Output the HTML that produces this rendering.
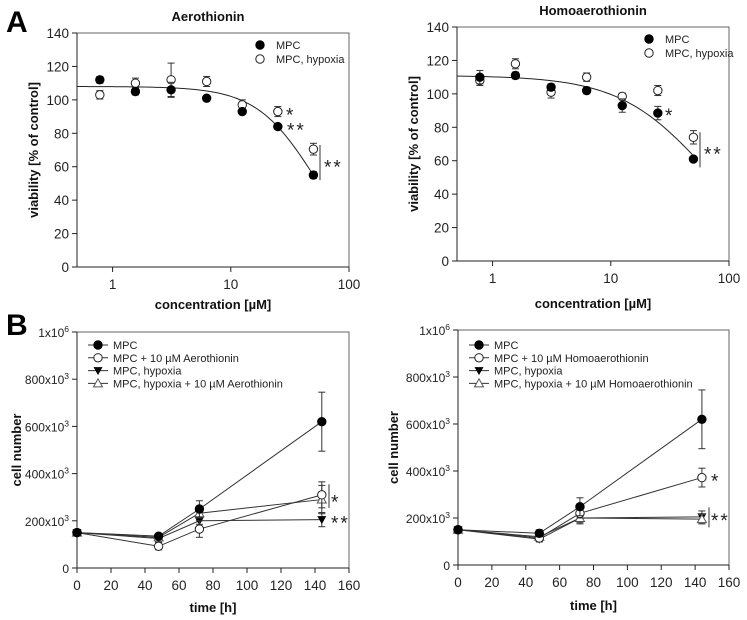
<!DOCTYPE html>
<html><head><meta charset="utf-8"><style>
body{margin:0;background:#fff;}
svg{display:block;font-family:"Liberation Sans",Arial,sans-serif;}
</style></head><body>
<svg id="fig" width="747" height="620" viewBox="0 0 747 620" xmlns="http://www.w3.org/2000/svg">
<text x="6" y="32" font-size="30" font-weight="bold">A</text>
<text x="6" y="335" font-size="30" font-weight="bold">B</text>
</svg>
<script>
// Panel A data (concentration, µM)
const concA = [0.78, 1.56, 3.125, 6.25, 12.5, 25, 50];
const aeroMPC = [112, 105, 106, 101, 93, 84, 55];
const aeroMPCErr = [2, 2, 4.5, 1.5, 1.5, 1, 2];
const aeroHyp = [103, 110, 112, 111, 97, 93, 70.5];
const aeroHypErr = [2.5, 3, 10, 3, 3, 3, 3.5];
const homoMPC = [110, 111, 104, 102, 93, 88.5, 61];
const homoMPCErr = [4, 2, 2, 2, 4, 4, 1.5];
const homoHyp = [108, 118, 101, 110, 98.5, 102, 74];
const homoHypErr = [3, 3, 3.5, 2.5, 2, 3, 4];
const yTicksA = [0, 20, 40, 60, 80, 100, 120, 140];
const xTicksA = [1, 10, 100];
// Panel B data (time h, cell number x1000)
const timeB = [0, 48, 72, 144];
const bMPC = [150, 135, 250, 620];
const bMPCErr = [5, 10, 35, 125];
const bAero = [150, 92, 165, 310];
const bAeroErr = [5, 15, 35, 55];
const bHyp = [150, 125, 200, 205];
const bHypErr = [5, 15, 15, 30];
const bHypAero = [150, 130, 232, 290];
const bHypAeroErr = [5, 10, 20, 60];
const cMPC = [150, 135, 248, 620];
const cMPCErr = [5, 15, 38, 125];
const cHomo = [150, 115, 220, 372];
const cHomoErr = [5, 15, 20, 40];
const cHyp = [150, 110, 200, 205];
const cHypErr = [5, 12, 25, 25];
const cHypHomo = [150, 120, 200, 195];
const cHypHomoErr = [5, 12, 20, 20];
const yTicksB = [0, 200, 400, 600, 800, 1000];
const yTickLabelsB = ["0", "200x10³", "400x10³", "600x10³", "800x10³", "1x10⁶"];
const xTicksB = [0, 20, 40, 60, 80, 100, 120, 140, 160];

const svg = document.getElementById('fig');
const NS = 'http://www.w3.org/2000/svg';
function mk(tag, attrs, parent) {
  const e = document.createElementNS(NS, tag);
  for (const k in attrs) e.setAttribute(k, attrs[k]);
  (parent || svg).appendChild(e);
  return e;
}
function txt(x, y, s, size, extra, parent) {
  const t = mk('text', Object.assign({x: x, y: y, 'font-size': size, fill: '#111'}, extra || {}), parent);
  t.textContent = s;
  return t;
}

function marker(g, type, x, y) {
  let m;
  if (type === 'filled') m = mk('circle', {cx: x, cy: y, r: 4.2, fill: '#000', stroke: '#000'}, g);
  else if (type === 'open') m = mk('circle', {cx: x, cy: y, r: 4.2, fill: '#fff', stroke: '#222', 'stroke-width': 1}, g);
  else if (type === 'tridown') m = mk('polygon', {points: (x-4.5)+','+(y-3.5)+' '+(x+4.5)+','+(y-3.5)+' '+x+','+(y+4.5), fill: '#000'}, g);
  else m = mk('polygon', {points: (x-4.5)+','+(y+3.5)+' '+(x+4.5)+','+(y+3.5)+' '+x+','+(y-4.5), fill: '#fff', stroke: '#555', 'stroke-width': 1}, g);
  
  
  return m;
}

function errbar(g, x, y1, y2) {
  mk('line', {x1: x, x2: x, y1: y1, y2: y2, stroke: '#333', 'stroke-width': 1}, g);
  mk('line', {x1: x-3.5, x2: x+3.5, y1: y1, y2: y1, stroke: '#333', 'stroke-width': 1}, g);
  mk('line', {x1: x-3.5, x2: x+3.5, y1: y2, y2: y2, stroke: '#333', 'stroke-width': 1}, g);
}

function frame(name, L, R, T, B) {
  const g = mk('g', {});
  
  
  mk('rect', {x: L, y: T, width: R-L, height: B-T, fill: 'none', stroke: '#666', 'stroke-width': 1}, g);
  mk('line', {x1: L, x2: L, y1: T, y2: B, stroke: '#222'}, g);
  mk('line', {x1: L, x2: R, y1: B, y2: B, stroke: '#222'}, g);
  return g;
}

function panelA(cfg) {
  const {L, R, T, B} = cfg;
  const lx0 = Math.log10(0.5), lx1 = 2;
  const xs = v => L + (Math.log10(v) - lx0) / (lx1 - lx0) * (R - L);
  const ys = v => B - v / 140 * (B - T);
  const g = frame(cfg.name, L, R, T, B);
  txt(cfg.titleX, cfg.titleY, cfg.title, 13, {'font-weight': 'bold', 'text-anchor': 'middle'}, g);
  yTicksA.forEach(v => {
    mk('line', {x1: L-5, x2: L, y1: ys(v), y2: ys(v), stroke: '#222'}, g);
    txt(L-8, ys(v)+5, String(v), 13.5, {'text-anchor': 'end', fill: '#222'}, g);
  });
  xTicksA.forEach(v => {
    mk('line', {x1: xs(v), x2: xs(v), y1: B, y2: B+5, stroke: '#222'}, g);
    txt(xs(v), B+22, String(v), 13.5, {'text-anchor': 'middle', fill: '#222'}, g);
  });
  const yl = txt(0, 0, 'viability [% of control]', 13, {'font-weight': 'bold', 'text-anchor': 'middle', transform: 'translate(' + cfg.ylabX + ',' + ((T+B)/2) + ') rotate(-90)'}, g);
  
  const xl = txt((L+R)/2, cfg.xlabY, 'concentration [µM]', 13, {'font-weight': 'bold', 'text-anchor': 'middle'}, g);
  
  let d = '';
  for (let i = 0; i <= 80; i++) {
    const lv = lx0 + (Math.log10(50) - lx0) * i / 80;
    const x = Math.pow(10, lv);
    const y = cfg.top / (1 + Math.pow(x / cfg.ec, cfg.h));
    d += (i ? 'L' : 'M') + xs(x).toFixed(2) + ',' + ys(y).toFixed(2);
  }
  const c = mk('path', {d: d, fill: 'none', stroke: '#222', 'stroke-width': 1}, g);
  
  
  [[cfg.hyp, cfg.hypErr, 'open'], [cfg.mpc, cfg.mpcErr, 'filled']].forEach(([vals, errs, type]) => {
    const sg = mk('g', {}, g);
    
    
    vals.forEach((v, i) => {
      errbar(sg, xs(concA[i]), ys(v + errs[i]), ys(v - errs[i]));
      marker(sg, type, xs(concA[i]), ys(v));
    });
  });
  const lg = mk('g', {}, g);
  
  
  marker(lg, 'filled', cfg.legX, cfg.legY);
  txt(cfg.legX + 16, cfg.legY + 4, 'MPC', 11, {fill: '#222'}, lg);
  marker(lg, 'open', cfg.legX, cfg.legY + 14);
  txt(cfg.legX + 16, cfg.legY + 18, 'MPC, hypoxia', 11, {fill: '#222'}, lg);
  cfg.sig.forEach(s => {
    const t = txt(s.x, ys(s.v) + 10, s.t, 19, {fill: '#222', 'letter-spacing': '2'}, g);
    
    
  });
  mk('line', {x1: cfg.barX, x2: cfg.barX, y1: ys(cfg.bar[0]), y2: ys(cfg.bar[1]), stroke: '#333'}, g);
}

function panelB(cfg) {
  const {L, R, T, B} = cfg;
  const xs = v => L + v / 160 * (R - L);
  const ys = v => B - v / 1000 * (B - T);
  const g = frame(cfg.name, L, R, T, B);
  yTicksB.forEach((v, i) => {
    mk('line', {x1: L-5, x2: L, y1: ys(v), y2: ys(v), stroke: '#222'}, g);
    const lab = yTickLabelsB[i];
    const t = txt(L-8, ys(v)+5, '', 12, {'text-anchor': 'end', fill: '#222'}, g);
    if (lab.indexOf('x10') >= 0) {
      const parts = lab.split('x10');
      const a = document.createElementNS(NS, 'tspan'); a.textContent = parts[0] + 'x10'; t.appendChild(a);
      const b = document.createElementNS(NS, 'tspan'); b.textContent = parts[1] === '⁶' ? '6' : '3';
      b.setAttribute('dy', '-5'); b.setAttribute('font-size', '8.5'); t.appendChild(b);
    } else t.textContent = lab;
  });
  xTicksB.forEach(v => {
    mk('line', {x1: xs(v), x2: xs(v), y1: B, y2: B+5, stroke: '#222'}, g);
    txt(xs(v), B+22, String(v), 13.5, {'text-anchor': 'middle', fill: '#222'}, g);
  });
  const yl = txt(0, 0, 'cell number', 13, {'font-weight': 'bold', 'text-anchor': 'middle', transform: 'translate(' + cfg.ylabX + ',' + ((T+B)/2) + ') rotate(-90)'}, g);
  
  const xl = txt((L+R)/2, cfg.xlabY, 'time [h]', 13, {'font-weight': 'bold', 'text-anchor': 'middle'}, g);
  
  const order = [2, 3, 1, 0];
  order.forEach(k => {
    const s = cfg.series[k];
    const sg = mk('g', {}, g);
    
    
    let d = '';
    s.vals.forEach((v, i) => { d += (i ? 'L' : 'M') + xs(timeB[i]) + ',' + ys(v); });
    mk('path', {d: d, fill: 'none', stroke: '#333', 'stroke-width': 1}, sg);
    s.vals.forEach((v, i) => {
      errbar(sg, xs(timeB[i]), ys(v + s.err[i]), ys(v - s.err[i]));
      marker(sg, s.type, xs(timeB[i]), ys(v));
    });
  });
  const lg = mk('g', {}, g);
  
  
  cfg.series.forEach((s, i) => {
    const y = cfg.legY + i * 12.8;
    mk('line', {x1: cfg.legX, x2: cfg.legX + 20, y1: y, y2: y, stroke: '#333'}, lg);
    marker(lg, s.type, cfg.legX + 10, y);
    txt(cfg.legX + 25, y + 4, s.label, 11, {fill: '#222'}, lg);
  });
  cfg.sig.forEach(s => {
    const t = txt(s.x, ys(s.v) + 10, s.t, 19, {fill: '#222', 'letter-spacing': '2'}, g);
    
    
  });
  mk('line', {x1: cfg.barX, x2: cfg.barX, y1: ys(cfg.bar[0]), y2: ys(cfg.bar[1]), stroke: '#333'}, g);
}

panelA({name: 'chart-aerothionin-viability', L: 77, R: 349, T: 33, B: 267, title: 'Aerothionin', titleX: 208, titleY: 21,
  ylabX: 38, xlabY: 309, top: 108, ec: 51, h: 1.75,
  mpc: aeroMPC, mpcErr: aeroMPCErr, hyp: aeroHyp, hypErr: aeroHypErr, legX: 260, legY: 45,
  sig: [{x: 286, v: 93, t: '*'}, {x: 287, v: 84, t: '**'}, {x: 324, v: 62, t: '**'}], barX: 320, bar: [73, 52]});
panelA({name: 'chart-homoaerothionin-viability', L: 457, R: 729, T: 27, B: 261, title: 'Homoaerothionin', titleX: 593, titleY: 15,
  ylabX: 418, xlabY: 308, top: 111, ec: 63, h: 1.18,
  mpc: homoMPC, mpcErr: homoMPCErr, hyp: homoHyp, hypErr: homoHypErr, legX: 649, legY: 39,
  sig: [{x: 665, v: 89, t: '*'}, {x: 704, v: 66, t: '**'}], barX: 700, bar: [77, 56]});
panelB({name: 'chart-aerothionin-growth', L: 77, R: 349, T: 332, B: 568, ylabX: 21, xlabY: 612, legX: 88, legY: 345,
  series: [
    {vals: bMPC, err: bMPCErr, type: 'filled', label: 'MPC'},
    {vals: bAero, err: bAeroErr, type: 'open', label: 'MPC + 10 µM Aerothionin'},
    {vals: bHyp, err: bHypErr, type: 'tridown', label: 'MPC, hypoxia'},
    {vals: bHypAero, err: bHypAeroErr, type: 'triup', label: 'MPC, hypoxia + 10 µM Aerothionin'}],
  sig: [{x: 331, v: 295, t: '*'}, {x: 331, v: 205, t: '**'}], barX: 329, bar: [355, 255]});
panelB({name: 'chart-homoaerothionin-growth', L: 458, R: 729, T: 330, B: 565, ylabX: 398, xlabY: 610, legX: 469, legY: 345,
  series: [
    {vals: cMPC, err: cMPCErr, type: 'filled', label: 'MPC'},
    {vals: cHomo, err: cHomoErr, type: 'open', label: 'MPC + 10 µM Homoaerothionin'},
    {vals: cHyp, err: cHypErr, type: 'tridown', label: 'MPC, hypoxia'},
    {vals: cHypHomo, err: cHypHomoErr, type: 'triup', label: 'MPC, hypoxia + 10 µM Homoaerothionin'}],
  sig: [{x: 711, v: 372, t: '*'}, {x: 711, v: 205, t: '**'}], barX: 709, bar: [245, 160]});
</script>
</body></html>
